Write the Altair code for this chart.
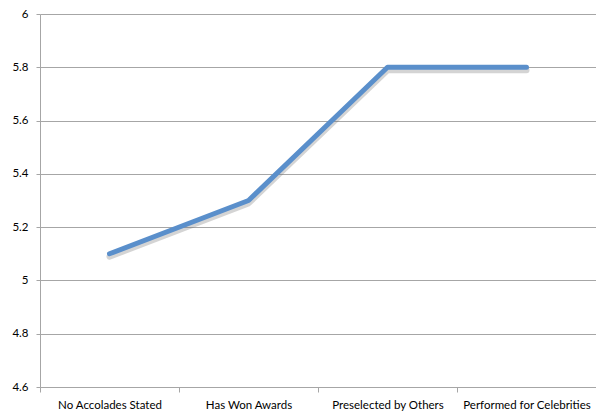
import altair as alt
import pandas as pd

categories = ["No Accolades Stated", "Has Won Awards", "Preselected by Others", "Performed for Celebrities"]
values = [5.1, 5.3, 5.8, 5.8]
y_ticks = [4.6, 4.8, 5.0, 5.2, 5.4, 5.6, 5.8, 6.0]

df = pd.DataFrame({"cat": categories, "val": values})

FONT = "Lato"
GRID = "#a6a6a6"

x_enc = alt.X("cat:N", sort=categories, title=None,
              scale=alt.Scale(paddingInner=0, paddingOuter=0),
              axis=alt.Axis(labelAngle=0, tickBand="extent", grid=False,
                            domainColor=GRID, tickColor=GRID, tickSize=5,
                            labelPadding=7, labelFont=FONT, labelFontSize=11.5,
                            labelColor="#000000", labelLimit=200))
y_scale = alt.Scale(domain=[4.6, 6.0], nice=False, zero=False)
y_axis = alt.Axis(values=y_ticks, format=".1~f", title=None, grid=True,
                  gridColor=GRID, gridWidth=1, gridOpacity=1,
                  domainColor=GRID, tickColor=GRID, tickSize=4,
                  labelPadding=8, labelFont=FONT, labelFontSize=11.5,
                  labelColor="#000000")

shadow = alt.Chart(df).transform_calculate(sv="datum.val - 0.011").mark_line(
    strokeWidth=6, color="#707070", opacity=0.3, strokeCap="round", strokeJoin="round"
).encode(x=x_enc, y=alt.Y("sv:Q", scale=y_scale, axis=y_axis))

line = alt.Chart(df).mark_line(
    strokeWidth=5, color="#5a8fcb", strokeCap="round", strokeJoin="round"
).encode(x=x_enc, y=alt.Y("val:Q", scale=y_scale, axis=y_axis))

chart = alt.layer(shadow, line).properties(
    width=556, height=373,
    padding={"left": 40, "top": 14, "right": 0, "bottom": 25},
    autosize=alt.AutoSizeParams(type="none"),
    background="white",
).configure_view(stroke=None)

chart.save("out.html", embed_options={"renderer": "svg", "actions": False})
